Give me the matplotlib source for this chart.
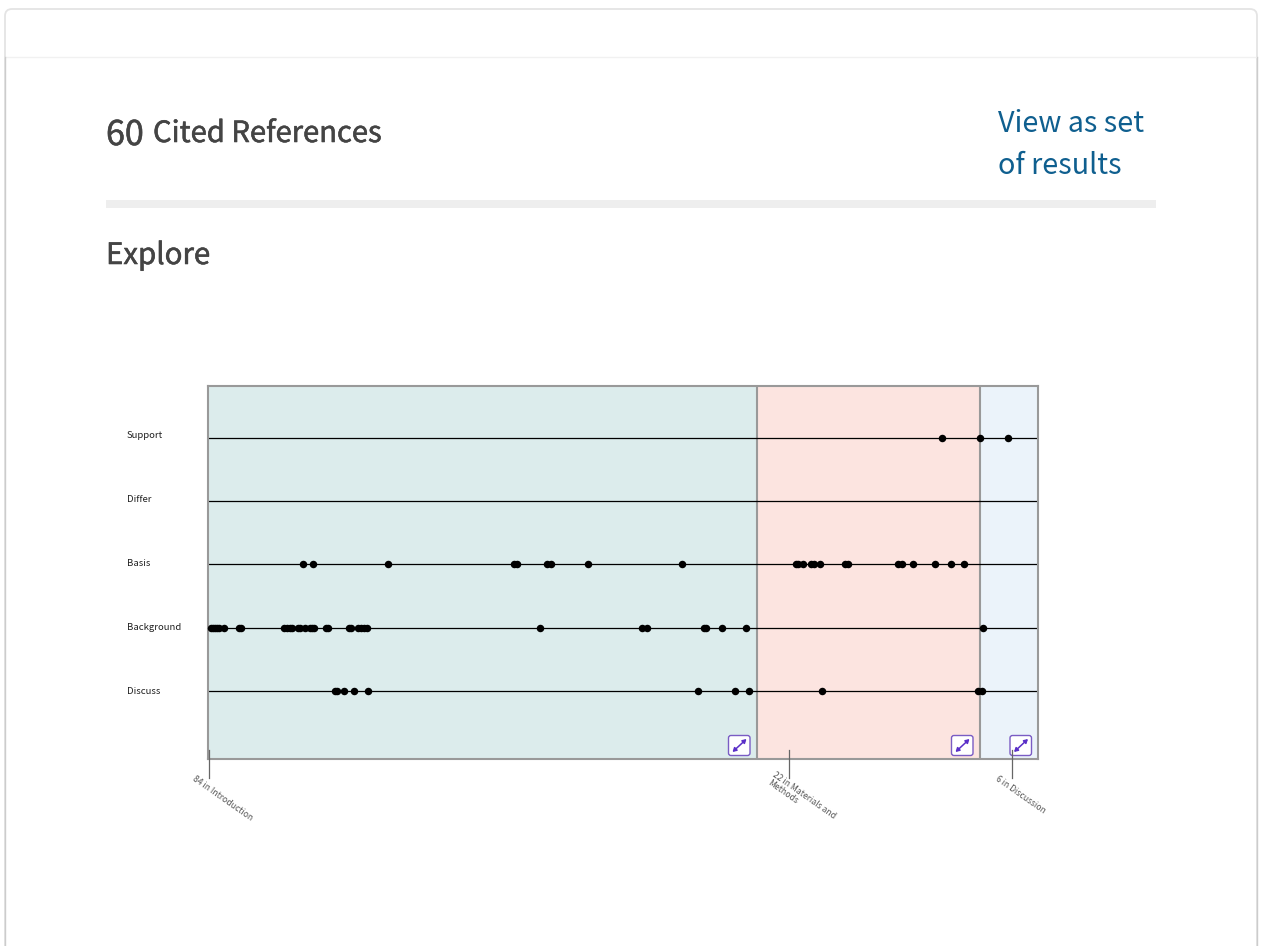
import matplotlib
matplotlib.use('Agg')
import matplotlib.pyplot as plt
import matplotlib.patheffects as pe
from matplotlib.patches import FancyBboxPatch, Rectangle

plt.rcParams['font.family'] = ['Noto Sans CJK SC', 'DejaVu Sans']

# categories, bottom row first
rows = ['Discuss', 'Background', 'Basis', 'Differ', 'Support']

# positions along the paper
discuss = [127, 129, 135.5, 145.5, 159.5, 489.5, 527, 540.5, 613.5, 769.5, 773.5]
background = [2.5, 4.5, 6.5, 8.5, 10.5, 15.5, 30.5, 32.5, 75.5, 78.5, 81.5, 83.5, 89.5,
              91.5, 96.5, 101.5, 103.5, 105.5, 117.5, 119.5, 140.5, 142.5, 149.5, 152.5,
              155.5, 158.5, 332, 433.5, 438.5, 495.5, 497.5, 513.5, 538, 774.5]
basis = [94.5, 104.5, 179.5, 305.5, 308.5, 338.5, 342.5, 380, 474, 587.5, 589.5, 594.5,
         602.5, 605.5, 611.5, 636.5, 639.5, 689.5, 693.5, 704.5, 727, 742.5, 756]
differ = []
support = [733.5, 771.5, 799.5]
series = [discuss, background, basis, differ, support]

# sections
section_names = ['84 in Introduction', '22 in Materials and\nMethods', '6 in Discussion']
section_edges = [0, 549, 772, 830]
section_colors = ['#dcecec', '#fce4e0', '#ebf3fa']
section_ticks = [1, 581, 804]

W, H = 1264, 946
fig = plt.figure(figsize=(W / 100, H / 100), dpi=100)


def pixel_axes(z):
    a = fig.add_axes([0, 0, 1, 1], zorder=z)
    a.set_xlim(0, W)
    a.set_ylim(H, 0)
    a.axis('off')
    return a


# page furniture behind the chart, buttons and ticks in front of it
page = pixel_axes(0)
front = pixel_axes(2)

page.add_patch(FancyBboxPatch((5, 9), 1252, 1000, boxstyle='round,pad=0,rounding_size=7',
                              fc='white', ec='#e4e4e4', lw=1.3))
page.plot([5, 1257], [57, 57], color='#f1f1f1', lw=1)
page.plot([5, 5], [57, H], color='#cccccc', lw=1)
page.plot([1257, 1257], [57, H], color='#cccccc', lw=1)
page.add_patch(Rectangle((106, 200), 1050, 7.5, fc='#eeeeee', ec='none'))

heavy = [pe.withStroke(linewidth=0.4, foreground='#444444')]
page.text(106, 145, '60', fontsize=24.5, color='#444444', path_effects=heavy)
page.text(153, 142, 'Cited References', fontsize=21, color='#444444', path_effects=heavy)
page.text(106, 264, 'Explore', fontsize=21.2, color='#444444', path_effects=heavy)
page.text(998, 132, 'View as set', fontsize=20.7, color='#0f5f8f')
page.text(998, 174, 'of results', fontsize=20.7, color='#0f5f8f')

# the chart itself
left, right, top, bottom = 208, 1038, 386, 759
ax = fig.add_axes([left / W, 1 - bottom / H, (right - left) / W, (bottom - top) / H], zorder=1)
ax.set_xlim(section_edges[0], section_edges[-1])
ax.set_ylim(-1.087, 4.833)
ax.set_xticks([])
ax.set_yticks([])
for s in ax.spines.values():
    s.set_color('#999999')
    s.set_linewidth(1.5)

for i in range(len(section_colors)):
    ax.axvspan(section_edges[i], section_edges[i + 1], color=section_colors[i], lw=0, zorder=0)
for e in section_edges[1:-1]:
    ax.axvline(e, color='#999999', lw=1.5, zorder=1)

for i, name in enumerate(rows):
    ax.axhline(i, color='black', lw=0.9, zorder=2)
    ax.plot(series[i], [i] * len(series[i]), 'o', color='black', ms=5.4, mew=0, zorder=3, clip_on=False)
    page.text(127, 691.5 - i * 64, name, fontsize=6.9, color='#222222', va='center')

# expand buttons in the bottom right corner of each section
button_x = [728.5, 951.5, 1010]
for bx in button_x:
    front.add_patch(FancyBboxPatch((bx, 735.5), 21.5, 20, boxstyle='round,pad=0,rounding_size=2.5',
                                   fc='white', ec='#7a5cc4', lw=1))
    front.annotate('', xy=(bx + 4, 752), xytext=(bx + 18, 739),
                   arrowprops=dict(arrowstyle='<|-|>,head_width=0.13,head_length=0.22',
                                   color='#5a2fc8', lw=1.1, shrinkA=0, shrinkB=0))

# section ticks and slanted labels
label_x = [193, 771, 996]
for t, name, lx in zip(section_ticks, section_names, label_x):
    front.plot([left + t, left + t], [750, 778], color='#666666', lw=0.9)
    front.text(lx, 778, name, fontsize=6.2, color='#555555', rotation=-35, rotation_mode='anchor',
               ha='left', va='center', linespacing=1.1)

fig.savefig('out.png', dpi=100)
